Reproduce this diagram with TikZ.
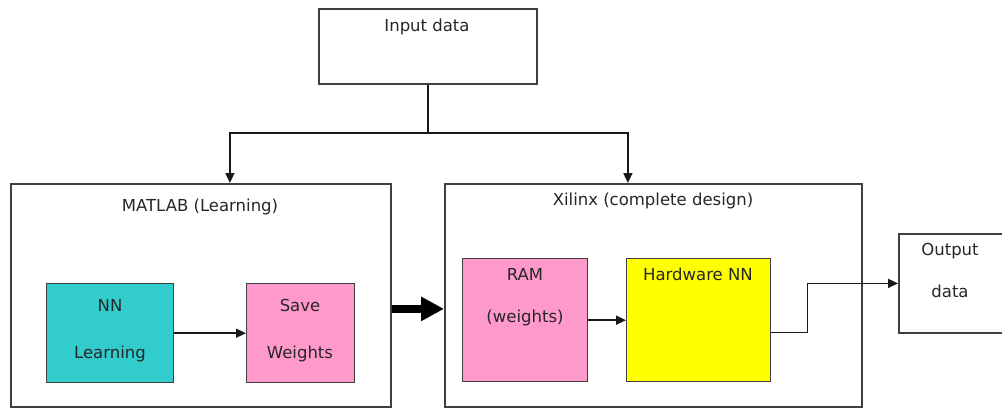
\documentclass[tikz,border=0pt]{standalone}
\usepackage{fontspec}
\setmainfont{DejaVu Sans}
\usepackage{tikz}
\usetikzlibrary{calc, shapes, arrows, arrows.meta}
\definecolor{nncyan}{HTML}{33CCCC}
\definecolor{wpink}{HTML}{FF99CC}
\definecolor{hwyellow}{HTML}{FFFF00}
\definecolor{edge}{HTML}{404040}
\begin{document}
\begin{tikzpicture}[x=1pt,y=-1pt]
\tikzstyle{box}=[draw=edge,line width=1.8pt,anchor=north west,inner sep=0pt]
\tikzstyle{block}=[draw=edge,line width=1.4pt,anchor=north west,inner sep=0pt]
\tikzstyle{txt}=[text=black!85,font=\fontsize{16.5}{19}\selectfont,inner sep=0pt]
\tikzstyle{arr}=[-{Triangle[length=10pt,width=9pt]},line width=1.5pt,black!90]
\useasboundingbox (0,0) rectangle (1002,408);
% outer boxes
\node[box,minimum width=218pt,minimum height=75pt] (input) at (318,8) {};
\node[box,minimum width=380pt,minimum height=223pt] (matlab) at (10,183) {};
\node[box,minimum width=417pt,minimum height=223pt] (xilinx) at (444,183) {};
\node[box,minimum width=110pt,minimum height=99pt] (output) at (898,233) {};
% inner blocks
\node[block,fill=nncyan,minimum width=127pt,minimum height=99pt] (nn) at (46,283) {};
\node[block,fill=wpink,minimum width=108pt,minimum height=99pt] (save) at (246,283) {};
\node[block,fill=wpink,minimum width=125pt,minimum height=123pt] (ram) at (462,258) {};
\node[block,fill=hwyellow,minimum width=144pt,minimum height=123pt] (hw) at (626,258) {};
% texts
\node[txt] (input_t) at (427,27) {Input data};
\node[txt] (matlab_t) at (200,207) {MATLAB (Learning)};
\node[txt] (xilinx_t) at (653,201) {Xilinx (complete design)};
\node[txt] (nn_t1) at (110,305) {NN};
\node[txt] (nn_t2) at (110,354) {Learning};
\node[txt] (save_t1) at (300,305) {Save};
\node[txt] (save_t2) at (300,354) {Weights};
\node[txt] (ram_t1) at (525,274) {RAM};
\node[txt] (ram_t2) at (525,318) {(weights)};
\node[txt] (hw_t) at (698,274) {Hardware NN};
\node[txt] (out_t1) at (950,251) {Output};
\node[txt] (out_t2) at (950,291) {data};
% connectors
\coordinate (split) at (input.south |- 0,133);
\draw[line width=1.5pt,black!90] (input.south) -- (split);
\draw[arr] (split) -| ([xshift=29pt]matlab.north);
\draw[arr] (split) -| ([xshift=-25.5pt]xilinx.north);
\draw[arr] (nn.east) -- (save.west);
\draw[arr] (ram.east) -- (hw.west);
\draw[arr] ([yshift=-12.5pt]hw.east) -- ++(36,0) |- (output.west);
\draw[-{Triangle[length=23pt,width=23pt]},line width=8pt] ([yshift=-13.5pt]matlab.east) -- ([yshift=-13.5pt]xilinx.west);
\end{tikzpicture}
\end{document}
